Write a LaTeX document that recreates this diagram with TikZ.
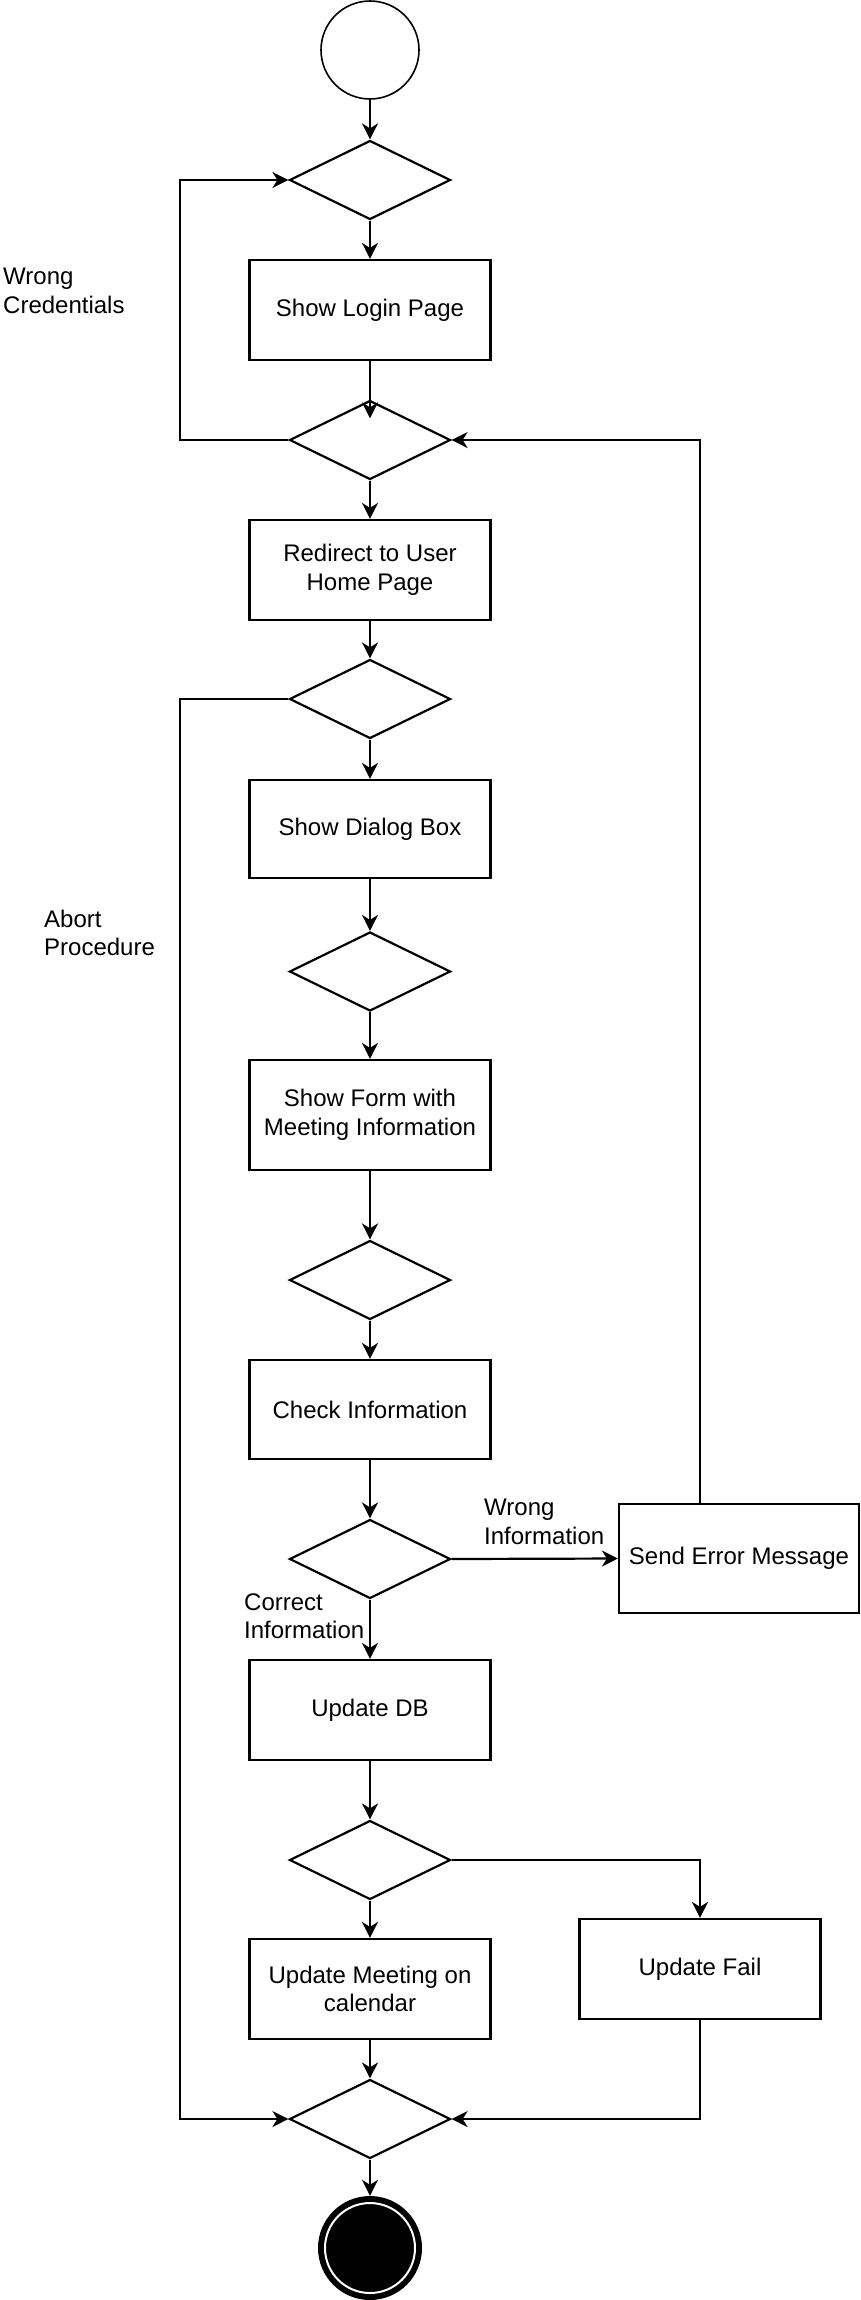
\documentclass[tikz,border=0pt]{standalone}
\usepackage{fontspec}
\setmainfont{Liberation Sans}
\usetikzlibrary{shapes.geometric,arrows.meta}
\begin{document}
\begin{tikzpicture}[x=1pt,y=-1pt,
  every node/.style={font=\fontsize{24}{28.5}\selectfont},
  box/.style={draw, line width=2.2pt, rectangle, minimum width=241pt, minimum height=100pt, inner sep=0pt, align=center},
  dec/.style={draw, line width=2.2pt, diamond, minimum width=161pt, minimum height=79pt, inner sep=0pt},
  arr/.style={line width=2.2pt, -{Stealth[length=16pt,width=16pt,inset=5pt]}},
  ln/.style={line width=2.2pt},
  lbl/.style={align=left, inner sep=0pt}]
\useasboundingbox (0,0) rectangle (861,2300);
% nodes
\node[circle, draw, line width=1.6pt, minimum size=98pt, inner sep=0pt] (start) at (370,50) {};
\node[dec] (d1) at (370,180) {};
\node[box] (login) at (370,310) {Show Login Page};
\node[dec] (d2) at (370,440) {};
\node[box] (redirect) at (370,570) {Redirect to User\\Home Page};
\node[dec] (d3) at (370,699) {};
\node[box, minimum height=98pt] (dialog) at (370,829) {Show Dialog Box};
\node[dec] (d4) at (370,971.5) {};
\node[box, minimum height=110pt] (form) at (370,1115) {Show Form with\\Meeting Information};
\node[dec] (d5) at (370,1280) {};
\node[box, minimum height=99pt] (check) at (370,1409.5) {Check Information};
\node[dec] (d6) at (370,1559) {};
\node[box, minimum width=240pt, minimum height=109pt] (error) at (739,1558.5) {Send Error Message};
\node[box] (updb) at (370,1710) {Update DB};
\node[dec] (d7) at (370,1860) {};
\node[box] (meeting) at (370,1989) {Update Meeting on\\calendar};
\node[box] (fail) at (700,1969) {Update Fail};
\node[dec] (d8) at (370,2119) {};
\node[circle, fill=black, minimum size=104pt, inner sep=0pt] (end) at (370,2248) {};
\node[circle, draw=white, line width=2pt, fill=black, minimum size=90pt, inner sep=0pt] (endin) at (end) {};
% labels
\node[lbl, anchor=west] (lwc) at (3,291) {Wrong\\Credentials};
\node[lbl, anchor=west] (lap) at (44,933) {Abort\\Procedure};
\node[lbl, anchor=west] (lwi) at (484,1522) {Wrong\\Information};
\node[lbl, anchor=west] (lci) at (244,1616) {Correct\\Information};
% coordinates
\coordinate (c1) at (180,440);
\coordinate (c2) at (180,699);
\coordinate (eTop) at (700,1504);
% connectors
\draw[arr] (start) -- (d1);
\draw[arr] (d1) -- (login);
\draw[arr, shorten >=-19pt] (login) -- (d2);
\draw[arr] (d2.west) -- (c1) |- (d1.west);
\draw[arr] (d2) -- (redirect);
\draw[arr] (redirect) -- (d3);
\draw[arr] (d3) -- (dialog);
\draw[arr] (d3.west) -- (c2) |- (d8.west);
\draw[arr] (dialog) -- (d4);
\draw[arr] (d4) -- (form);
\draw[arr] (form) -- (d5);
\draw[arr] (d5) -- (check);
\draw[arr] (check) -- (d6);
\draw[arr] (d6.east) -- (error.west);
\draw[arr] (eTop) |- (d2.east);
\draw[arr] (d6) -- (updb);
\draw[arr] (updb) -- (d7);
\draw[arr] (d7) -- (meeting);
\draw[arr] (d7.east) -| (fail.north);
\draw[arr] (meeting) -- (d8);
\draw[arr] (fail.south) |- (d8.east);
\draw[arr] (d8) -- (end);
\end{tikzpicture}
\end{document}
